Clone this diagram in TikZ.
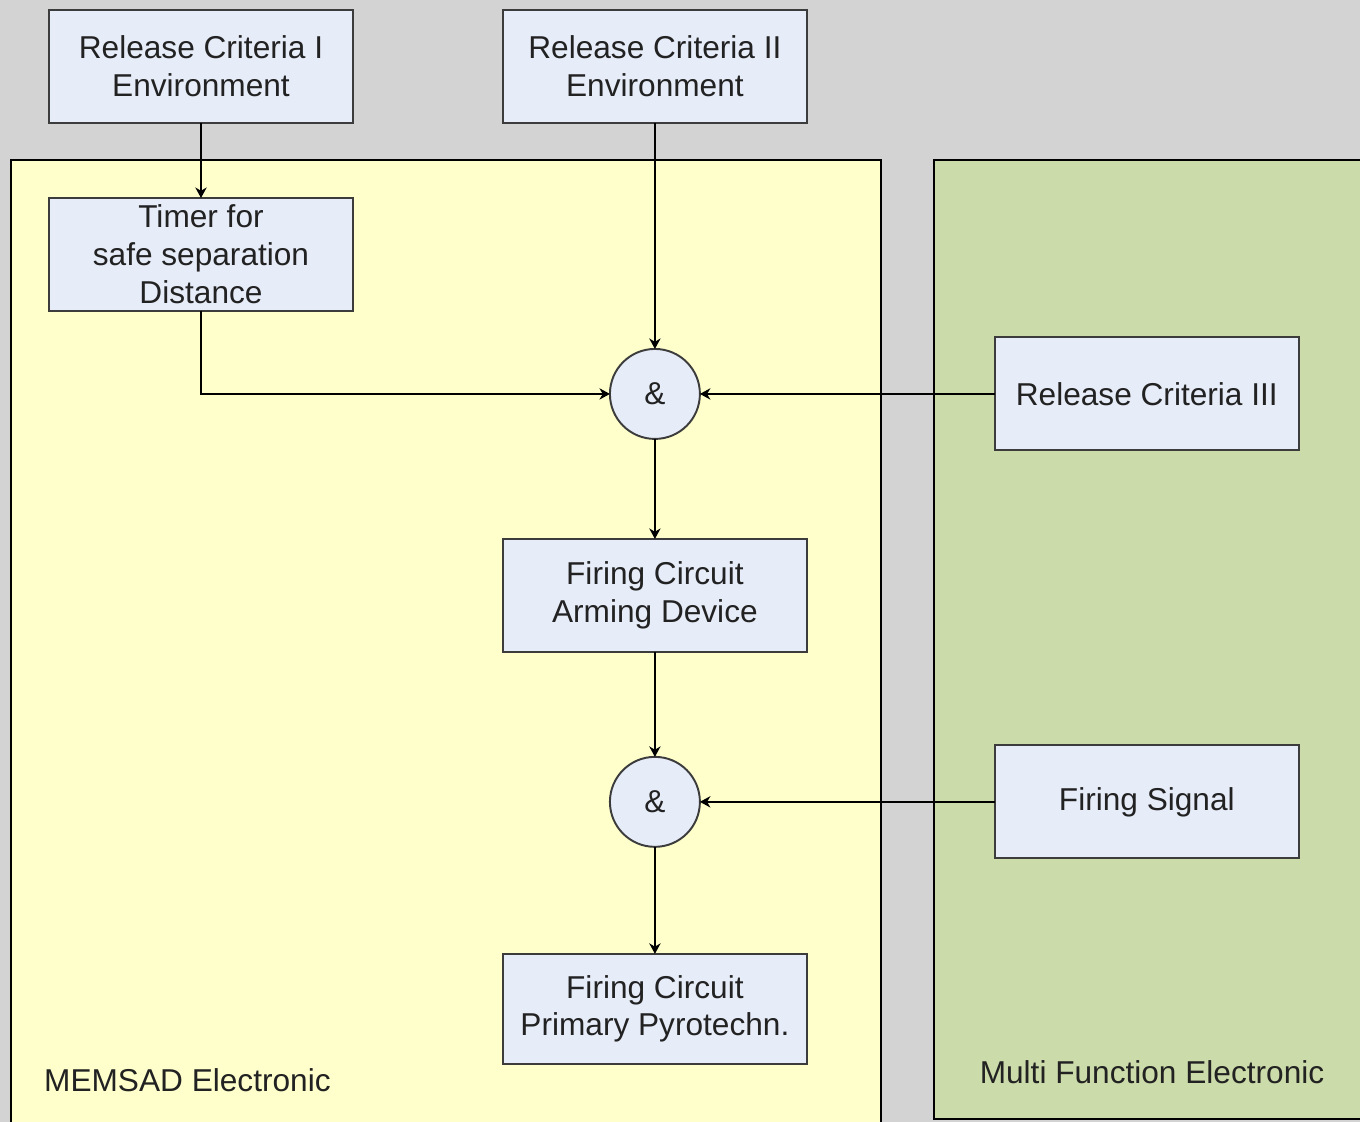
\documentclass[tikz,border=0pt]{standalone}
\usepackage{fontspec}
\setmainfont{Liberation Sans}
\usepackage{xcolor}
\usetikzlibrary{shapes,arrows.meta,positioning,calc}
\definecolor{bggray}{RGB}{211,211,211}
\definecolor{memsad}{RGB}{255,255,204}
\definecolor{mfe}{RGB}{203,219,169}
\definecolor{boxfill}{RGB}{230,236,248}
\definecolor{edge}{RGB}{60,60,60}
\definecolor{txt}{RGB}{34,34,34}
\tikzstyle{Box} = [rectangle, draw=edge, line width=1.1pt, fill=boxfill, text=txt, minimum width=6.08cm, minimum height=2.26cm, outer sep=0pt, align=center]
\tikzstyle{Gate} = [circle, draw=edge, line width=1.1pt, fill=boxfill, text=txt, minimum size=1.8cm, inner sep=0pt, outer sep=0pt]
\tikzstyle{Panel} = [draw=black, line width=1.1pt]
\tikzstyle{arrow} = [line width=0.8pt, ->, >={Stealth[length=6pt,width=6.5pt]}]

\begin{document}
\begin{tikzpicture}[x=0.02cm, y=-0.02cm, every node/.style={font=\fontsize{18}{21.5}\selectfont}]
\clip (0,0) rectangle (1360,1122);
\fill[bggray] (0,0) rectangle (1360,1122);
\draw[Panel, fill=memsad] (11,160) rectangle (881,1140);
\draw[Panel, fill=mfe] (934,160) rectangle (1380,1119);

\node (RC1)[Box] at (201,66.5) {Release Criteria I\\Environment};
\node (RC2)[Box, right=3cm of RC1] {Release Criteria II\\Environment};
\node (Timer)[Box, below=1.5cm of RC1] {Timer for\\safe separation\\Distance};
\node (And1)[Gate, below=4.52cm of RC2] {\&};
\node (RC3)[Box, right=5.9cm of And1] {Release Criteria III};
\node (Arming)[Box, below=2cm of And1] {Firing Circuit\\Arming Device};
\node (And2)[Gate, below=2.1cm of Arming] {\&};
\node (Signal)[Box, right=5.9cm of And2] {Firing Signal};
\node (Pyro)[Box, below=2.14cm of And2, minimum height=2.2cm] {Firing Circuit\\Primary Pyrotechn.};

\node (MEMSAD label)[anchor=west, text=txt] at (38,1080) {MEMSAD Electronic};
\node (MFE label)[text=txt] at (1152,1072) {Multi Function Electronic};

\draw[arrow](RC1)--(Timer);
\draw[arrow](RC2)--(And1);
\draw[arrow](Timer.south)|-(And1.west);
\draw[arrow](RC3.west)--(And1.east);
\draw[arrow](And1)--(Arming);
\draw[arrow](Arming)--(And2);
\draw[arrow](Signal.west)--(And2.east);
\draw[arrow](And2)--(Pyro);

\end{tikzpicture}
\end{document}
